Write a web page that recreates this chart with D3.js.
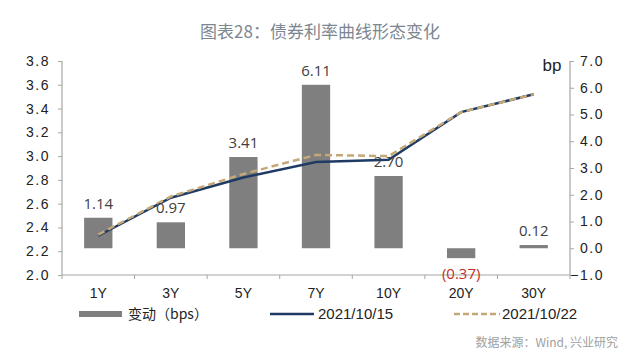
<!DOCTYPE html>
<html><head><meta charset="utf-8">
<script src="https://cdn.jsdelivr.net/npm/d3@7"></script>
<style>
body{margin:0;background:#fff;}
svg{display:block;}
text{font-family:"Noto Sans CJK SC","Noto Sans",sans-serif;}
</style></head>
<body><svg id="c" width="640" height="359"></svg>
<script>
const categories = ["1Y","3Y","5Y","7Y","10Y","20Y","30Y"];
const changeBps = [1.14, 0.97, 3.41, 6.11, 2.70, -0.37, 0.12];
const curve1015 = [2.33, 2.65, 2.82, 2.95, 2.97, 3.37, 3.52];
const curve1022 = [2.34, 2.66, 2.85, 3.01, 3.00, 3.37, 3.52];
const leftTicks = [2.0,2.2,2.4,2.6,2.8,3.0,3.2,3.4,3.6,3.8];
const rightTicks = [-1,0,1,2,3,4,5,6,7];
const changeLabels = ["1.14","0.97","3.41","6.11","2.70","(0.37)","0.12"];

const svg = d3.select("#c");
const L = 62, R = 570, T = 61, B = 275;
const x = d3.scaleBand().domain(categories).range([L, R]).padding(0);
const yL = d3.scaleLinear().domain([2.0, 3.8]).range([B, T]);
const yR = d3.scaleLinear().domain([-1, 7]).range([B, T]);
const axisColor = "#a6a6a6";

// title
svg.append("text").attr("x", 320).attr("y", 38).attr("text-anchor","middle")
  .attr("font-size", 17).attr("fill","#7d8791").text("图表28：债券利率曲线形态变化");

// bars
const bw = x.bandwidth()*0.39;
svg.append("g").selectAll("rect").data(categories).join("rect")
  .attr("x", d => x(d) + x.bandwidth()/2 - bw/2)
  .attr("width", bw)
  .attr("y", (d,i) => yR(Math.max(0, changeBps[i])))
  .attr("height", (d,i) => Math.abs(yR(changeBps[i]) - yR(0)))
  .attr("fill", "#7f7f7f");

// axes
const gL = svg.append("g").attr("transform", `translate(${L},0)`)
  .call(d3.axisLeft(yL).tickValues(leftTicks).tickFormat(d3.format(".1f")).tickSize(4).tickPadding(8));
const gR = svg.append("g").attr("transform", `translate(${R},0)`)
  .call(d3.axisRight(yR).tickValues(rightTicks).tickFormat(d3.format(".1f")).tickSize(4).tickPadding(8));
const gX = svg.append("g").attr("transform", `translate(0,${B})`)
  .call(d3.axisBottom(x).tickSize(0).tickPadding(13));
// boundary ticks
svg.append("g").selectAll("line").data(d3.range(categories.length+1)).join("line")
  .attr("x1", i => L + i*x.step()).attr("x2", i => L + i*x.step())
  .attr("y1", B).attr("y2", B+4).attr("stroke", axisColor);

[gL,gR,gX].forEach(g => {
  g.selectAll(".domain").attr("stroke", axisColor).attr("stroke-width",1.2);
  g.selectAll(".tick line").attr("stroke", axisColor);
  g.selectAll("text").attr("fill","#222").attr("font-size",14)
    .style("font-family","'Liberation Sans',sans-serif");
});
gL.selectAll("text").style("letter-spacing","1.5px");
gR.selectAll("text").style("letter-spacing","1.5px")
  .attr("text-anchor","end").attr("x", 34);
gL.select(".domain").attr("d", `M-0,${T}V${B}`);
gR.select(".domain").attr("d", `M0,${T}V${B}`);
gX.select(".domain").attr("d", `M${L},0H${R}`);

svg.append("text").attr("x", 552).attr("y", 71).attr("text-anchor","middle")
  .attr("font-size",17).attr("fill","#222").style("font-family","'Liberation Sans',sans-serif").text("bp");

// lines
const line = d3.line().x((d,i) => x(categories[i]) + x.bandwidth()/2).y(d => yL(d));
svg.append("path").datum(curve1015).attr("d", line)
  .attr("fill","none").attr("stroke","#1f3b63").attr("stroke-width",2.5);
svg.append("path").datum(curve1022).attr("d", line)
  .attr("fill","none").attr("stroke","#c4a878").attr("stroke-width",2.5).attr("stroke-dasharray","7,4");

// data labels
svg.append("g").selectAll("text").data(categories).join("text")
  .attr("x", d => x(d) + x.bandwidth()/2)
  .attr("y", (d,i) => changeBps[i] >= 0 ? yR(changeBps[i]) - 9 : yR(changeBps[i]) + 21)
  .attr("text-anchor","middle").attr("font-size",15)
  .style("font-family","'Open Sans',sans-serif")
  .attr("fill", (d,i) => changeBps[i] >= 0 ? "#404040" : "#c0302b")
  .text((d,i) => changeLabels[i]);

// legend
const ly = 314;
svg.append("rect").attr("x",79).attr("y",ly-3).attr("width",43).attr("height",6).attr("fill","#7f7f7f");
svg.append("text").attr("x",128).attr("y",ly+5).attr("font-size",14).attr("fill","#222").text("变动（bps）");
svg.append("line").attr("x1",270).attr("x2",314).attr("y1",ly).attr("y2",ly).attr("stroke","#1f3b63").attr("stroke-width",2.5);
svg.append("text").attr("x",318).attr("y",ly+5).attr("font-size",15).attr("fill","#222").style("font-family","'Liberation Sans',sans-serif").text("2021/10/15");
svg.append("line").attr("x1",454).attr("x2",500).attr("y1",ly).attr("y2",ly).attr("stroke","#c4a878").attr("stroke-width",2.5).attr("stroke-dasharray","6,3");
svg.append("text").attr("x",502).attr("y",ly+5).attr("font-size",15).attr("fill","#222").style("font-family","'Liberation Sans',sans-serif").text("2021/10/22");

// source
svg.append("text").attr("x",618).attr("y",347).attr("text-anchor","end").attr("font-size",12)
  .attr("fill","#a0a0a0").text("数据来源：Wind, 兴业研究");
</script></body></html>
